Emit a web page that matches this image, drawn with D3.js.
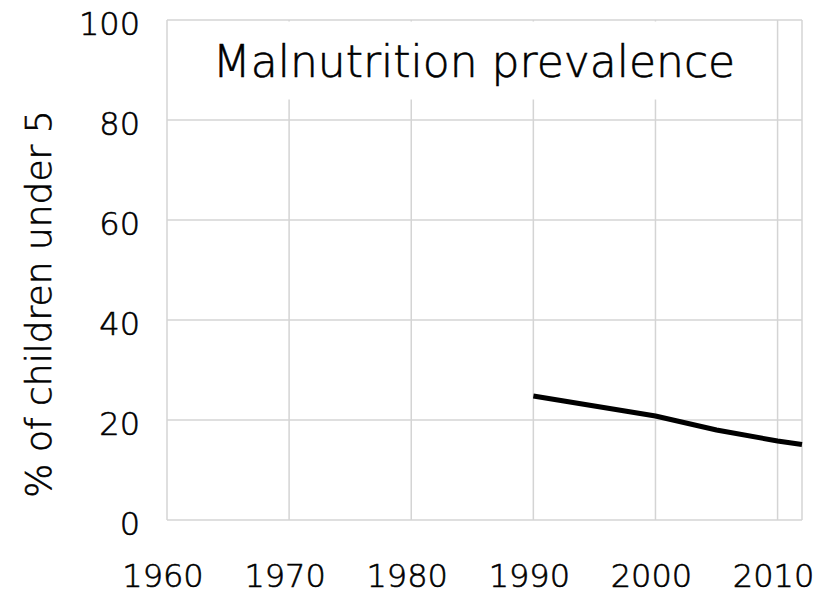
<!DOCTYPE html>
<html>
<head>
<meta charset="utf-8">
<script src="https://cdn.jsdelivr.net/npm/d3@7"></script>
<style>
  body { margin: 0; background: #fff; }
  text { font-family: "DejaVu Sans", sans-serif; font-weight: 200; fill: #000; stroke: #000; stroke-width: 0.6px; }
</style>
</head>
<body>
<div id="holder"></div>
<script>
const w = 813;
const h = 594;

// DATA
const years = [1990, 1995, 2000, 2005, 2010, 2012];
const values = [24.8, 22.8, 20.8, 18.0, 15.8, 15.1];
const xTicks = [1960, 1970, 1980, 1990, 2000, 2010];
const yTicks = [0, 20, 40, 60, 80, 100];
const title = "Malnutrition prevalence";
const yLabel = "% of children under 5";

const plotLeft = 167, plotRight = 802, plotTop = 20, plotBottom = 520;

const svg = d3.select("#holder")
    .append("svg")
    .attr("width", w)
    .attr("height", h)

const xScale = d3.scaleLinear().domain([1960, 2012]).range([plotLeft, plotRight])
const yScale = d3.scaleLinear().domain([0, 100]).range([plotBottom, plotTop])

// GRID
svg.append("g")
    .selectAll("line")
    .data(xTicks.concat([2012]))
    .enter()
    .append("line")
    .attr("x1", d => xScale(d)).attr("x2", d => xScale(d))
    .attr("y1", plotTop).attr("y2", plotBottom)
    .attr("stroke", "#d4d4d4").attr("stroke-width", 1.5)

svg.append("g")
    .selectAll("line")
    .data(yTicks)
    .enter()
    .append("line")
    .attr("x1", plotLeft).attr("x2", plotRight)
    .attr("y1", d => yScale(d)).attr("y2", d => yScale(d))
    .attr("stroke", "#d4d4d4").attr("stroke-width", 1.5)

// TICK LABELS
svg.append("g")
    .selectAll("text")
    .data(yTicks)
    .enter()
    .append("text")
    .attr("x", 140)
    .attr("y", d => yScale(d) + 15)
    .attr("text-anchor", "end")
    .attr("font-size", 32)
    .text(d => d)

svg.append("g")
    .selectAll("text")
    .data(xTicks)
    .enter()
    .append("text")
    .attr("x", d => xScale(d) - 4)
    .attr("y", 587)
    .attr("text-anchor", "middle")
    .attr("font-size", 32)
    .text(d => d)

// Y LABEL
svg.append("text")
    .attr("transform", "translate(51,304) rotate(-90)")
    .attr("text-anchor", "middle")
    .attr("font-size", 36)
    .text(yLabel)

// TITLE BOX
svg.append("rect")
    .attr("x", 192).attr("y", 21.5)
    .attr("width", 568).attr("height", 78)
    .attr("fill", "#fff")

svg.append("text")
    .attr("x", 474)
    .attr("y", 77)
    .attr("text-anchor", "middle")
    .attr("font-size", 44)
    .text(title)

// LINE
const line = d3.line()
    .x((d, i) => xScale(years[i]))
    .y(d => yScale(d))

svg.append("path")
    .datum(values)
    .attr("d", line)
    .attr("fill", "none")
    .attr("stroke", "#000")
    .attr("stroke-width", 5)
</script>
</body>
</html>
